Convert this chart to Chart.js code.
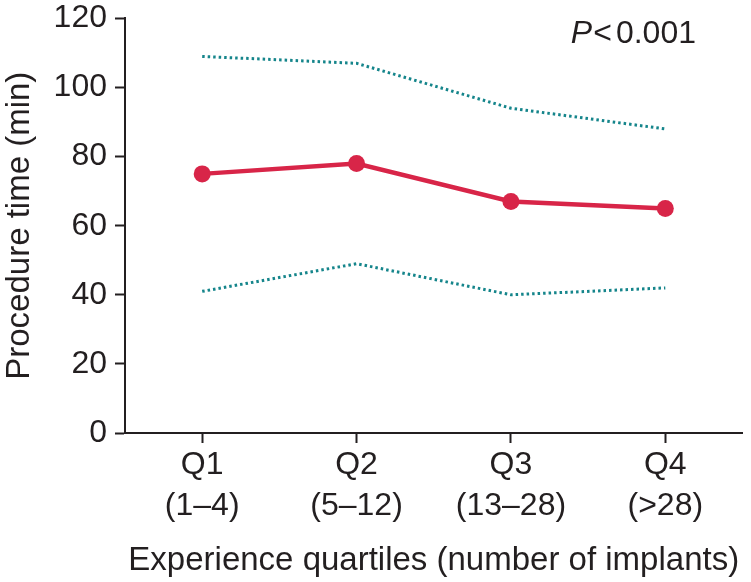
<!DOCTYPE html>
<html>
<head>
<meta charset="utf-8">
<script src="https://cdn.jsdelivr.net/npm/chart.js@4"></script>
<style>
  html, body { margin: 0; padding: 0; background: #fff; }
  #wrap { width: 751px; height: 582px; }
</style>
</head>
<body>
<div id="wrap"><canvas id="myChart" width="751" height="582"></canvas></div>
<script>
const quartiles = [['Q1', '(1–4)'], ['Q2', '(5–12)'], ['Q3', '(13–28)'], ['Q4', '(>28)']];
const median = [75, 78, 67, 65];
const upper = [109, 107, 94, 88];
const lower = [41, 49, 40, 42];
const yTicks = [0, 20, 40, 60, 80, 100, 120];

const ink = '#231f20';
const fontFam = '"Liberation Sans", Arial, Helvetica, sans-serif';

// P value text in the upper right corner
const pLabel = {
  id: 'pLabel',
  afterDraw(chart) {
    const c = chart.ctx;
    c.save();
    c.fillStyle = ink;
    c.textBaseline = 'alphabetic';
    c.textAlign = 'right';
    c.font = '32px ' + fontFam;
    c.fillText('0.001', 696, 43);
    c.fillText('<', 612, 43);
    c.font = 'italic 32px ' + fontFam;
    c.fillText('P', 592, 43);
    c.restore();
  }
};

const ctx = document.getElementById('myChart').getContext('2d');
const myChart = new Chart(ctx, {
  type: 'line',
  data: {
    labels: quartiles,
    datasets: [
      {
        label: 'upper',
        data: upper,
        borderColor: '#15858b',
        borderWidth: 3,
        borderDash: [2.5, 3],
        pointRadius: 0,
        fill: false
      },
      {
        label: 'lower',
        data: lower,
        borderColor: '#15858b',
        borderWidth: 3,
        borderDash: [2.5, 3],
        pointRadius: 0,
        fill: false
      },
      {
        label: 'median',
        data: median,
        borderColor: '#d82548',
        backgroundColor: '#d82548',
        borderWidth: 4.5,
        pointRadius: 8.5,
        pointBorderWidth: 0,
        fill: false
      }
    ]
  },
  options: {
    responsive: false,
    animation: false,
    layout: { padding: { top: 0, right: 3, left: 0, bottom: 0 } },
    plugins: {
      legend: { display: false },
      tooltip: { enabled: false }
    },
    scales: {
      x: {
        offset: true,
        afterFit(scale) { scale.height = 149; },
        border: { color: ink, width: 2 },
        grid: { drawOnChartArea: false, tickLength: 10, tickColor: ink, tickWidth: 2 },
        ticks: {
          color: ink,
          padding: 2,
          font: { family: fontFam, size: 32, lineHeight: 1.28 },
          maxRotation: 0
        },
        title: {
          display: true,
          text: 'Experience quartiles (number of implants)',
          color: ink,
          font: { family: fontFam, size: 33, lineHeight: 1.2 },
          padding: { top: 0, bottom: 1 }
        }
      },
      y: {
        min: 0,
        max: 120,
        afterFit(scale) { scale.width = 125; },
        afterBuildTicks(scale) { scale.ticks = yTicks.map(v => ({ value: v })); },
        border: { color: ink, width: 2 },
        grid: { drawOnChartArea: false, tickLength: 10, tickColor: ink, tickWidth: 2 },
        ticks: {
          color: ink,
          padding: 8,
          font: { family: fontFam, size: 32, lineHeight: 0.65 }
        },
        title: {
          display: true,
          text: 'Procedure time (min)',
          color: ink,
          font: { family: fontFam, size: 33, lineHeight: 1.2 },
          padding: { top: 0, bottom: 0 }
        }
      }
    }
  },
  plugins: [pLabel]
});
</script>
</body>
</html>
